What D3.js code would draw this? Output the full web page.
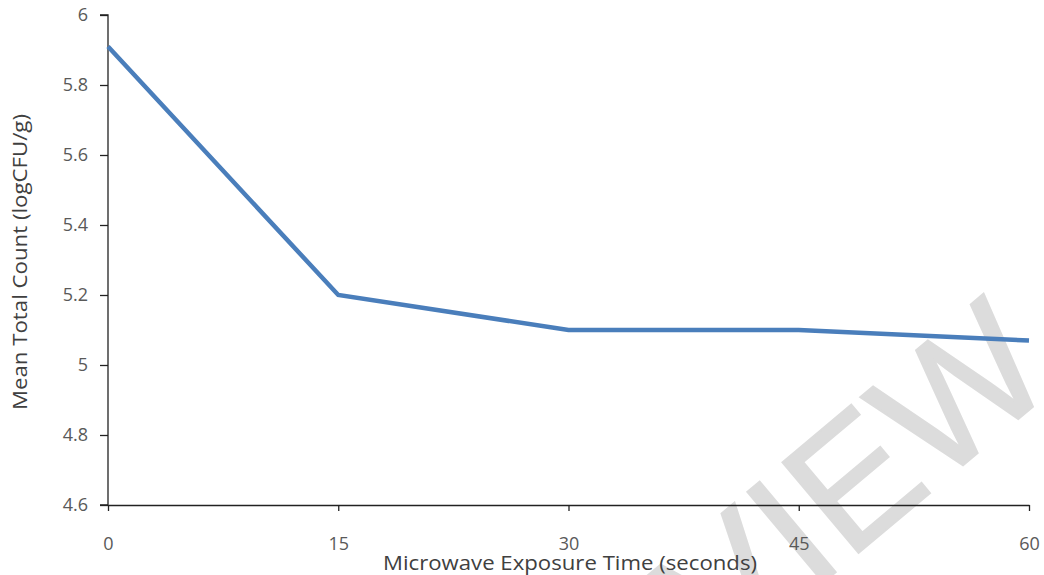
<!DOCTYPE html>
<html><head><meta charset="utf-8">
<script src="https://cdn.jsdelivr.net/npm/d3@7"></script>
<style>body{margin:0;background:#fff}svg{display:block}</style>
</head><body>
<svg id="c" width="1044" height="575"></svg>
<script>
const times = [0, 15, 30, 45, 60];
const meanCount = [5.91, 5.20, 5.10, 5.10, 5.07];
const yTicks = [4.6, 4.8, 5, 5.2, 5.4, 5.6, 5.8, 6];
const xTicks = [0, 15, 30, 45, 60];
const xTitle = "Microwave Exposure Time (seconds)";
const yTitle = "Mean Total Count (logCFU/g)";
const watermark = "PREVIEW";

const svg = d3.select("#c");
const font = "'Open Sans', sans-serif";
const x = d3.scaleLinear().domain([0, 60]).range([108, 1029]);
const y = d3.scaleLinear().domain([4.6, 6]).range([505, 15]);

// watermark
svg.append("text")
  .attr("transform", "translate(1060,384) rotate(-40)")
  .attr("text-anchor", "end")
  .attr("font-family", "'Liberation Sans', sans-serif")
  .attr("font-size", 172)
  .attr("fill", "#dcdcdc")
  .attr("stroke", "#dcdcdc")
  .attr("stroke-width", 2)
  .text(watermark);

// axes
const yAxis = svg.append("g").attr("transform", "translate(108,0)")
  .call(d3.axisLeft(y).tickValues(yTicks).tickSize(8).tickPadding(12).tickFormat(d => d3.format("")(+d.toFixed(1))));
const xAxis = svg.append("g").attr("transform", "translate(0,505)")
  .call(d3.axisBottom(x).tickValues(xTicks).tickSize(6).tickSizeOuter(0).tickPadding(26));
[yAxis, xAxis].forEach(g => {
  g.select(".domain").attr("stroke", "#222").attr("stroke-width", 1.3);
  g.selectAll(".tick line").attr("stroke", "#222").attr("stroke-width", 1.3);
  g.selectAll(".tick text").attr("fill", "#595959").attr("font-family", font).attr("font-size", 18);
});
yAxis.select(".domain").attr("d", "M-8,505H0V15H-8");

// line
svg.append("path")
  .datum(times.map((t, i) => [t, meanCount[i]]))
  .attr("fill", "none")
  .attr("stroke", "#4a7ebb")
  .attr("stroke-width", 4.5)
  .attr("stroke-linejoin", "miter")
  .attr("d", d3.line().x(d => x(d[0])).y(d => y(d[1])));

// titles
svg.append("text").attr("x", 570).attr("y", 570).attr("text-anchor", "middle")
  .attr("font-family", font).attr("font-size", 20).attr("fill", "#404040")
  .attr("textLength", 374).attr("lengthAdjust", "spacingAndGlyphs").text(xTitle);
svg.append("text").attr("transform", "translate(27,262) rotate(-90)").attr("text-anchor", "middle")
  .attr("font-family", font).attr("font-size", 20).attr("fill", "#404040")
  .attr("textLength", 296).attr("lengthAdjust", "spacingAndGlyphs").text(yTitle);
</script>
</body></html>
